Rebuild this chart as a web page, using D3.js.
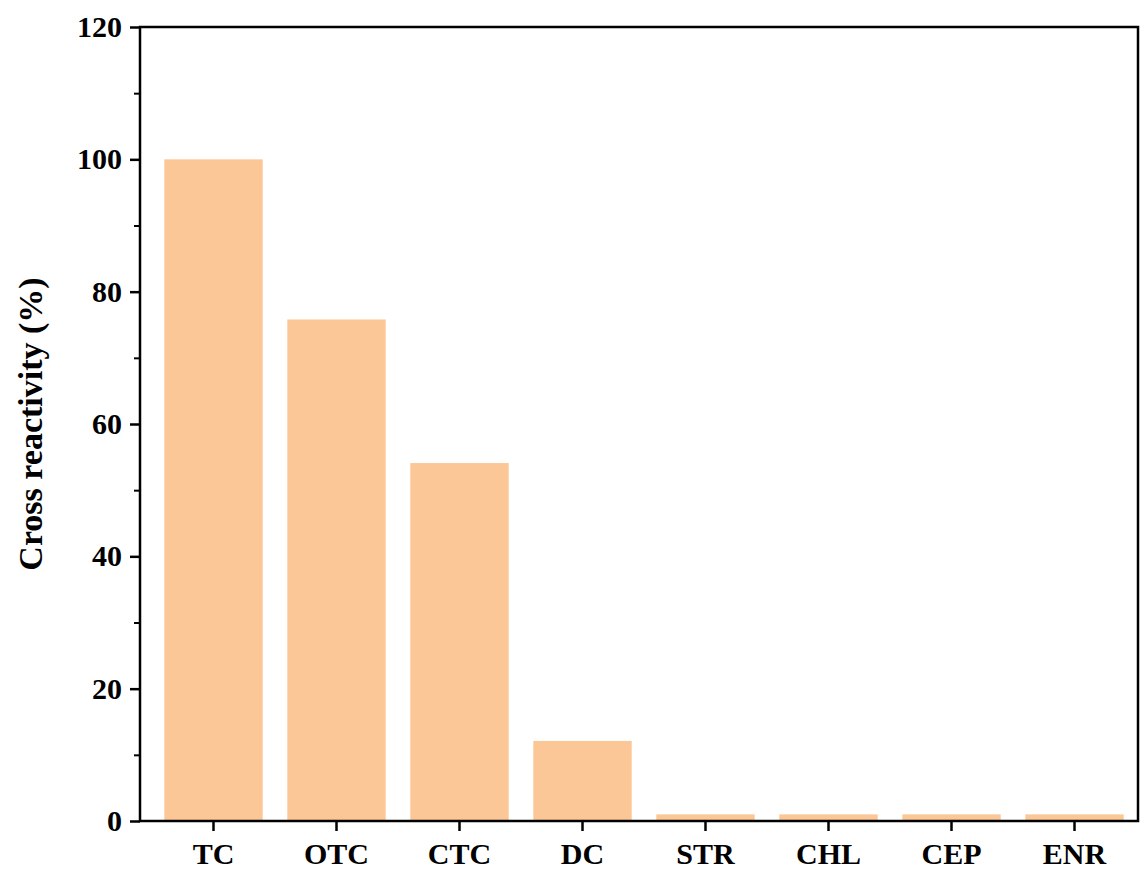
<!DOCTYPE html>
<html>
<head>
<meta charset="utf-8">
<script src="https://cdn.jsdelivr.net/npm/d3@7"></script>
<style>
  body { margin: 0; background: #fff; }
  text { font-family: "Liberation Serif", "Times New Roman", serif; font-weight: bold; }
</style>
</head>
<body>
<svg id="chart" width="1148" height="890"></svg>
<script>
let categories = ["TC", "OTC", "CTC", "DC", "STR", "CHL", "CEP", "ENR"];
let reactivity = [100, 75.8, 54.1, 12.1, 1, 1, 1, 1];
let yTicks = [0, 20, 40, 60, 80, 100, 120];

let svg = d3.select("#chart");
let plotLeft = 140, plotRight = 1138, plotTop = 27, plotBottom = 821;

let x = d3.scaleBand().domain(categories).range([152, 1136])
    .paddingInner(0.2).paddingOuter(0.1);
let y = d3.scaleLinear().domain([0, 120]).range([plotBottom, plotTop]);

// bars
svg.selectAll("rect.bar")
    .data(categories)
    .enter()
    .append("rect")
    .attr("class", "bar")
    .attr("x", d => x(d))
    .attr("width", x.bandwidth())
    .attr("y", (d, i) => y(reactivity[i]))
    .attr("height", (d, i) => plotBottom - y(reactivity[i]))
    .attr("fill", "#fcc797");

// frame
svg.append("rect")
    .attr("x", plotLeft).attr("y", plotTop)
    .attr("width", plotRight - plotLeft).attr("height", plotBottom - plotTop)
    .attr("fill", "none").attr("stroke", "#000").attr("stroke-width", 2.5);

// y axis
let yAxis = svg.append("g").attr("transform", "translate(" + plotLeft + ",0)")
    .call(d3.axisLeft(y).tickValues(yTicks).tickSize(10).tickPadding(8));
svg.append("g").attr("transform", "translate(" + plotLeft + ",0)")
    .call(d3.axisLeft(y).tickValues(d3.range(10, 120, 20)).tickSize(6).tickFormat(""))
    .call(g => g.select(".domain").remove())
    .selectAll("line").attr("stroke-width", 2);
yAxis.selectAll("line").attr("stroke-width", 2.5);
yAxis.select(".domain").remove();
yAxis.selectAll("text").attr("font-size", 30).attr("fill", "#000")
    .style("font-family", "Liberation Serif").style("font-weight", "bold");

// x axis
let xAxis = svg.append("g").attr("transform", "translate(0," + plotBottom + ")")
    .call(d3.axisBottom(x).tickSize(10).tickPadding(12));
xAxis.select(".domain").remove();
xAxis.selectAll("line").attr("stroke-width", 2.5);
xAxis.selectAll("text").attr("font-size", 30).attr("fill", "#000")
    .style("font-family", "Liberation Serif").style("font-weight", "bold");

// y label
svg.append("text")
    .attr("transform", "translate(42," + ((plotTop + plotBottom) / 2) + ") rotate(-90)")
    .attr("text-anchor", "middle")
    .attr("font-size", 34)
    .text("Cross reactivity (%)");
</script>
</body>
</html>
